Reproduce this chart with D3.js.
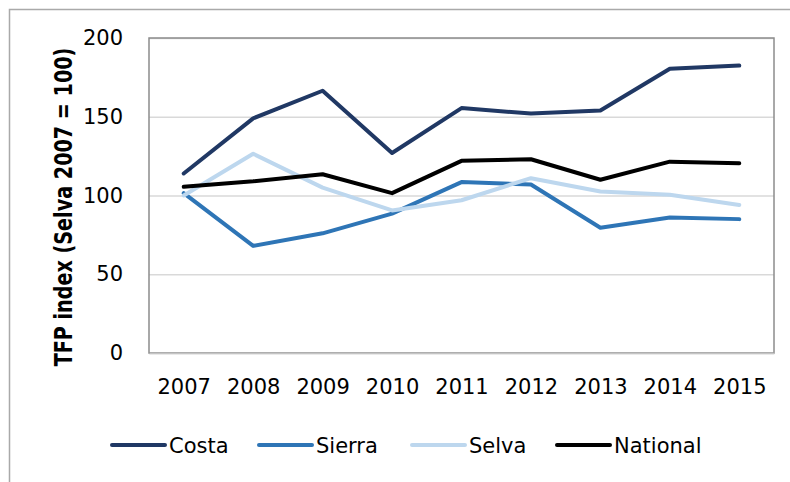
<!DOCTYPE html>
<html>
<head>
<meta charset="utf-8">
<script src="https://cdn.jsdelivr.net/npm/d3@7"></script>
<style>
  body { margin: 0; background: #fff; }
  text { font-family: "DejaVu Sans", sans-serif; fill: #000; }
</style>
</head>
<body>
<div id="chart"></div>
<script>
// values
var years = ["2007","2008","2009","2010","2011","2012","2013","2014","2015"];
var costa    = [114, 149, 166.5, 127, 155.5, 152, 154, 180.5, 182.5];
var sierra   = [101.5, 68, 76, 88.5, 108.5, 107, 79.5, 86, 85];
var selva    = [100, 126.5, 105, 90.5, 97, 111, 102.5, 100.5, 94];
var national = [105.5, 109, 113.5, 101.5, 122, 123, 110, 121.5, 120.5];
var yTicks = [0, 50, 100, 150, 200];
var seriesNames = ["Costa", "Sierra", "Selva", "National"];
var seriesColors = ["#203864", "#2E75B6", "#BDD7EE", "#000000"];

var series = [costa, sierra, selva, national].map((vals, i) => ({
    name: seriesNames[i],
    color: seriesColors[i],
    values: vals.map((v, j) => ({year: years[j], value: v}))
}));

var dim = {
    width: 790,
    height: 482,
    margin: {top: 38, left: 149, right: 16, bottom: 129}
};
dim.boundedWidth = dim.width - dim.margin.left - dim.margin.right;
dim.boundedHeight = dim.height - dim.margin.top - dim.margin.bottom;

const svg = d3.select("#chart").append("svg")
    .attr("width", dim.width)
    .attr("height", dim.height);

// outer chart frame (runs off the right and bottom of the picture)
svg.append("rect")
    .attr("x", 9.5).attr("y", 9.5)
    .attr("width", 800).attr("height", 500)
    .attr("fill", "none")
    .attr("stroke", "#a9a9a9")
    .attr("stroke-width", 1.5);

const bounded = svg.append("g")
    .attr("transform", `translate(${dim.margin.left},${dim.margin.top})`);

const xScaler = d3.scalePoint()
    .domain(years)
    .range([0, dim.boundedWidth])
    .padding(0.5);

const yScaler = d3.scaleLinear()
    .domain([0, 200])
    .range([dim.boundedHeight, 0]);

// gridlines
const grid = bounded.append("g")
    .call(d3.axisLeft(yScaler).tickValues(yTicks).tickSize(-dim.boundedWidth).tickFormat(""));
grid.select(".domain").remove();
grid.selectAll("line").attr("stroke", "#d9d9d9").attr("stroke-width", 1.4);

// plot frame
bounded.append("rect")
    .attr("x", 0).attr("y", 0)
    .attr("width", dim.boundedWidth).attr("height", dim.boundedHeight)
    .attr("fill", "none")
    .attr("stroke", "#8c8c8c")
    .attr("stroke-width", 1.5);

// y axis labels
const yAxis = bounded.append("g")
    .call(d3.axisLeft(yScaler).tickValues(yTicks).tickSize(0).tickPadding(26));
yAxis.select(".domain").remove();
yAxis.selectAll("text")
    .style("font-size", "21px")
    .attr("fill", "#000");

// x axis
const xAxis = bounded.append("g")
    .attr("transform", `translate(0,${dim.boundedHeight})`)
    .call(d3.axisBottom(xScaler).tickSize(0).tickPadding(26));
xAxis.select(".domain").attr("stroke", "#c4c4c4").attr("stroke-width", 1.5);
xAxis.selectAll("text")
    .style("font-size", "21px")
    .attr("fill", "#000");

// axis title - tall, narrow bold type, squeezed along its length
const title = svg.append("text")
    .attr("text-anchor", "middle")
    .style("font-weight", "bold")
    .style("font-size", "25px")
    .text("TFP index (Selva 2007 = 100)");
const titleLen = title.node().getComputedTextLength();
title.attr("transform", `translate(72,207) rotate(-90) scale(${319 / titleLen},1)`);

// lines
const lineGenerator = d3.line()
    .x(d => xScaler(d.year))
    .y(d => yScaler(d.value));

bounded.selectAll("path.series")
    .data(series)
    .join("path")
    .attr("class", "series")
    .attr("d", d => lineGenerator(d.values))
    .attr("fill", "none")
    .attr("stroke", d => d.color)
    .attr("stroke-width", 4)
    .attr("stroke-linejoin", "round")
    .attr("stroke-linecap", "round");

// legend
var legendX = [112, 259, 412, 557];
const legend = svg.append("g")
    .selectAll("g")
    .data(series)
    .join("g")
    .attr("transform", (d, i) => `translate(${legendX[i]},445)`);

legend.append("line")
    .attr("x1", 0).attr("x2", 53)
    .attr("y1", 0).attr("y2", 0)
    .attr("stroke", d => d.color)
    .attr("stroke-width", 4)
    .attr("stroke-linecap", "round");

legend.append("text")
    .attr("x", 57)
    .attr("y", 8)
    .style("font-size", "21px")
    .text(d => d.name);
</script>
</body>
</html>
